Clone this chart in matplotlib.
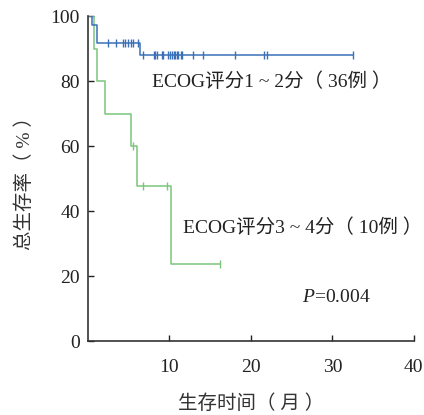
import matplotlib
matplotlib.use("Agg")
import matplotlib.pyplot as plt
import numpy as np

plt.rcParams['font.family'] = ['Liberation Serif', 'Noto Sans CJK SC']
plt.rcParams['mathtext.fontset'] = 'custom'
plt.rcParams['mathtext.it'] = 'Liberation Serif:italic'
plt.rcParams['mathtext.rm'] = 'Liberation Serif'

# ECOG 1-2 group (36 patients)
blue_t = [0, 0.45, 1.07, 6.4]
blue_s = [100, 97.2, 91.7, 88.0]
blue_end = 32.5
blue_cens = [2.4, 3.4, 4.35, 4.6, 4.95, 5.25, 5.5, 6.15,
             6.7, 8.1, 8.26, 8.5, 9.08, 9.24, 9.85, 10.06, 10.3, 10.55,
             10.71, 10.88, 11.1, 11.37, 11.6, 12.9, 14.07, 18.07, 21.6,
             21.97, 32.5]

# ECOG 3-4 group (10 patients)
green_t = [0, 0.77, 1.07, 2.1, 5.3, 5.97, 10.15]
green_s = [100, 90, 80, 70, 60, 47.7, 23.8]
green_end = 16.2
green_cens = [5.5, 6.8, 9.73, 16.2]

xticks = [10, 20, 30, 40]
yticks = [0, 20, 40, 60, 80, 100]


def step_at(ts, ss, x):
    i = np.searchsorted(ts, x, side='right') - 1
    return np.array(ss)[i]


fig = plt.figure(figsize=(4.24, 4.15), dpi=100)
ax = fig.add_axes([0.2075, 0.178, 0.7685, 0.783])

for ts, ss, end, cens, col in [(green_t, green_s, green_end, green_cens, '#7cc67c'),
                               (blue_t, blue_s, blue_end, blue_cens, '#3a70b8')]:
    ax.step(list(ts) + [end], list(ss) + [ss[-1]], where='post', color=col, lw=1.1)
    ax.plot(cens, step_at(ts, ss, cens), '|', color=col, ms=6, mew=1.0)

ax.set_xlim(0, 40)
ax.set_ylim(0, 100)
ax.set_xticks(xticks)
ax.set_yticks(yticks)
ax.tick_params(direction='in', length=4, width=1, labelsize=14, colors='#222222')
ax.tick_params(axis='x', pad=13)
ax.tick_params(axis='y', pad=6)
for s in ['top', 'right']:
    ax.spines[s].set_visible(False)
for s in ['left', 'bottom']:
    ax.spines[s].set_color('#333333')
    ax.spines[s].set_linewidth(1.2)

ax.set_xlabel('生存时间（ 月 ）', fontsize=14, color='#333333', labelpad=13)
ax.set_ylabel('总生存率（ % ）', fontsize=14, color='#333333', labelpad=12)

ax.text(7.85, 79.7, 'ECOG评分1 ~ 2分（ 36例 ）', fontsize=14, va='center', color='#222222')
ax.text(11.65, 34.8, 'ECOG评分3 ~ 4分（ 10例 ）', fontsize=14, va='center', color='#222222')
ax.text(26.3, 13.5, '$P$=0.004', fontsize=14, va='center', color='#222222')

fig.savefig('out.png', dpi=100)
